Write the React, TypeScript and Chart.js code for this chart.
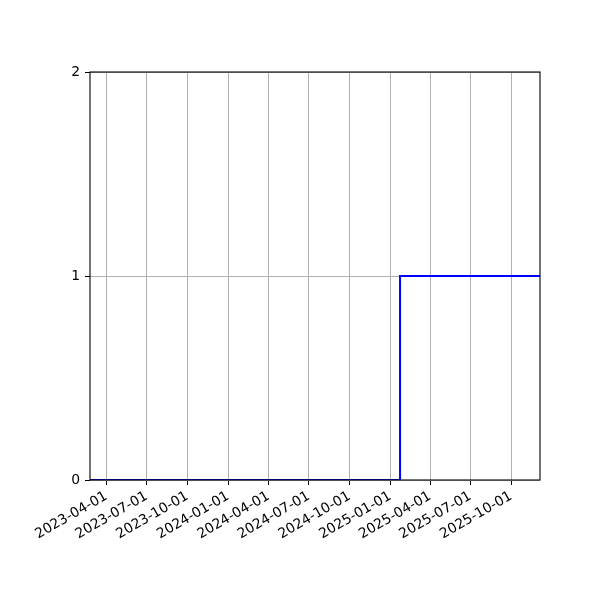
import React, { useEffect, useRef } from "react";
import { Chart, registerables } from "chart.js";

Chart.register(...registerables);

const stepDates = ["2023-02-23", "2025-01-23", "2025-12-05"];
const stepValues = [0, 1, 1];
const tickDates = [
  "2023-04-01", "2023-07-01", "2023-10-01", "2024-01-01", "2024-04-01",
  "2024-07-01", "2024-10-01", "2025-01-01", "2025-04-01", "2025-07-01", "2025-10-01",
];
const yTicks = [0, 1, 2];

const ts = (d: string) => {
  const [y, m, day] = d.split("-").map(Number);
  return Date.UTC(y, m - 1, day);
};

const spinePlugin = {
  id: "spines",
  afterDatasetsDraw(chart: any) {
    const { ctx, chartArea } = chart;
    ctx.save();
    ctx.strokeStyle = "#000";
    ctx.lineWidth = 1.1;
    ctx.strokeRect(chartArea.left, chartArea.top, chartArea.right - chartArea.left, chartArea.bottom - chartArea.top);
    ctx.restore();
  },
};

export default function App() {
  const ref = useRef<HTMLCanvasElement>(null);
  useEffect(() => {
    const font = { family: "'DejaVu Sans', sans-serif", size: 13.9 };
    const chart = new Chart(ref.current!, {
      type: "line",
      data: {
        datasets: [
          {
            data: stepDates.map((d, i) => ({ x: ts(d), y: stepValues[i] })),
            borderColor: "#0000ff",
            borderWidth: 2,
            pointRadius: 0,
            stepped: "before",
            fill: false,
          },
        ],
      },
      options: {
        animation: false,
        responsive: false,
        devicePixelRatio: 1,
        layout: { padding: { left: 0, top: 72, right: 60, bottom: 0 } },
        plugins: { legend: { display: false }, tooltip: { enabled: false } },
        scales: {
          x: {
            type: "linear",
            min: ts(stepDates[0]),
            max: ts(stepDates[stepDates.length - 1]),
            afterBuildTicks: (scale: any) => {
              scale.ticks = tickDates.map((d) => ({ value: ts(d) }));
            },
            afterFit: (scale: any) => {
              scale.height = 120;
            },
            border: { display: false },
            grid: { color: "#b0b0b0", lineWidth: 1, tickColor: "#000", tickLength: 5, tickWidth: 1 },
            ticks: {
              autoSkip: false,
              minRotation: 30,
              maxRotation: 30,
              padding: 3,
              color: "#000",
              font,
              callback: (_v: any, i: number) => tickDates[i],
            },
          },
          y: {
            type: "linear",
            min: 0,
            max: 2,
            afterBuildTicks: (scale: any) => {
              scale.ticks = yTicks.map((v) => ({ value: v }));
            },
            afterFit: (scale: any) => {
              scale.width = 90;
            },
            border: { display: false },
            grid: { color: "#b0b0b0", lineWidth: 1, tickColor: "#000", tickLength: 5, tickWidth: 1 },
            ticks: { padding: 5, color: "#000", font, callback: (v: any) => String(v) },
          },
        },
      },
      plugins: [spinePlugin],
    });
    return () => chart.destroy();
  }, []);
  return (
    <div style={{ position: "absolute", left: 0, top: 0, width: 600, height: 600, background: "#fff" }}>
      <canvas ref={ref} width={600} height={600} />
    </div>
  );
}
